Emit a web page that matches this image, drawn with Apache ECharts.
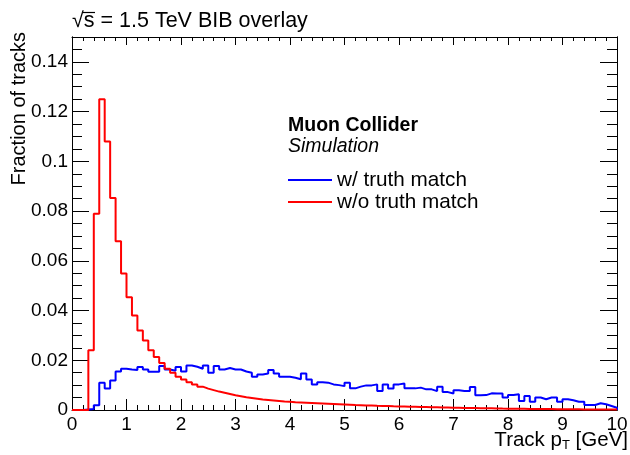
<!DOCTYPE html>
<html>
<head>
<meta charset="utf-8">
<script src="https://cdn.jsdelivr.net/npm/echarts@6/dist/echarts.min.js"></script>
<style>
  html, body { margin: 0; padding: 0; background: #fff; }
  #chart { width: 630px; height: 455px; }
</style>
</head>
<body>
<div id="chart"></div>
<script>
// Histogram binning: 100 bins of 0.1 GeV between 0 and 10 GeV
const binLow = 0;
const binWidth = 0.1;

// Fraction of tracks per bin, tracks with a truth match
const withTruth = [
  0, 0, 0.0002, 0.0004, 0.0019, 0.0110, 0.0086, 0.0119, 0.0155, 0.0166,
  0.0163, 0.0161, 0.0173, 0.0163, 0.0154, 0.0154, 0.0177, 0.0163, 0.0158, 0.0173,
  0.0155, 0.0179, 0.0174, 0.0166, 0.0179, 0.0150, 0.0177, 0.0163, 0.0169, 0.0163,
  0.0163, 0.0155, 0.0150, 0.0134, 0.0143, 0.0147, 0.0161, 0.0147, 0.0134, 0.0134,
  0.0130, 0.0124, 0.0147, 0.0123, 0.0103, 0.0112, 0.0110, 0.0103, 0.0100, 0.0096,
  0.0110, 0.0087, 0.0094, 0.0099, 0.0099, 0.0103, 0.0076, 0.0103, 0.0086, 0.0103,
  0.0107, 0.0087, 0.0087, 0.0090, 0.0083, 0.0083, 0.0076, 0.0094, 0.0072, 0.0066,
  0.0079, 0.0076, 0.0076, 0.0092, 0.0059, 0.0060, 0.0067, 0.0066, 0.0066, 0.0050,
  0.0060, 0.0063, 0.0036, 0.0056, 0.0033, 0.0050, 0.0043, 0.0050, 0.0050, 0.0033,
  0.0043, 0.0039, 0.0033, 0.0033, 0.0020, 0.0020, 0.0027, 0.0023, 0.0016, 0.0009
];

// Fraction of tracks per bin, tracks without a truth match
const withoutTruth = [
  0, 0, 0, 0.0240, 0.0789, 0.1250, 0.1080, 0.0853, 0.0679, 0.0549,
  0.0453, 0.0380, 0.0320, 0.0279, 0.0240, 0.0213, 0.0189, 0.0166, 0.0150, 0.0134,
  0.0123, 0.0112, 0.0103, 0.0094, 0.0086, 0.0080, 0.0074, 0.0069, 0.0064, 0.0059,
  0.0055, 0.0051, 0.0048, 0.0045, 0.0042, 0.0040, 0.0038, 0.0036, 0.0034, 0.0033,
  0.0031, 0.0030, 0.0029, 0.0028, 0.0027, 0.0026, 0.0025, 0.0024, 0.0023, 0.0022,
  0.0021, 0.0020, 0.00195, 0.00185, 0.0018, 0.0017, 0.00165, 0.0016, 0.0015, 0.00145,
  0.0014, 0.00135, 0.0013, 0.00125, 0.0012, 0.00115, 0.0011, 0.00105, 0.0010, 0.00095,
  0.0009, 0.00085, 0.0008, 0.00078, 0.00074, 0.0007, 0.00066, 0.00062, 0.00058, 0.00055,
  0.00052, 0.0005, 0.00047, 0.00044, 0.00042, 0.0004, 0.00038, 0.00036, 0.00034, 0.00032,
  0.0003, 0.00028, 0.00027, 0.00025, 0.00024, 0.00022, 0.00021, 0.0002, 0.00018, 0.00017
];

const seriesNames = ['w/ truth match', 'w/o truth match'];
const seriesColors = ['#0000ff', '#ff0000'];
const titleText = '\u221As = 1.5 TeV BIB overlay';
const yTitle = 'Fraction of tracks';
const experimentLabel = 'Muon Collider';
const statusLabel = 'Simulation';

// Turn bin contents into step-line vertices (bin low edges + closing edge)
function histPoints(values) {
  const pts = [[binLow, 0]];
  values.forEach((v, i) => pts.push([+(binLow + i * binWidth).toFixed(2), v]));
  const hi = +(binLow + values.length * binWidth).toFixed(2);
  pts.push([hi, values[values.length - 1]]);
  pts.push([hi, 0]);
  return pts;
}

const FONT = '"Liberation Sans", Arial, Helvetica, sans-serif';
const chart = echarts.init(document.getElementById('chart'), null, { renderer: 'canvas' });

const baseX = {
  type: 'value', min: 0, max: 10, interval: 1,
  axisLine: { show: true, onZero: false, lineStyle: { color: '#000', width: 1 } },
  splitLine: { show: false },
  minorSplitLine: { show: false }
};
const baseY = {
  type: 'value', min: 0, max: 0.15,
  axisLine: { show: true, onZero: false, lineStyle: { color: '#000', width: 1 } },
  splitLine: { show: false }
};

chart.setOption({
  animation: false,
  backgroundColor: '#fff',
  grid: { left: 72, right: 13, top: 37, bottom: 45, containLabel: false, outerBoundsMode: 'none' },
  xAxis: [
    Object.assign({}, baseX, {
      position: 'bottom',
      axisTick: { show: true, inside: true, length: 11, lineStyle: { color: '#000' } },
      minorTick: { show: true, splitNumber: 5, length: 5, lineStyle: { color: '#000' } },
      axisLabel: { show: true, color: '#000', fontSize: 19, fontFamily: FONT, margin: 5 }
    }),
    Object.assign({}, baseX, {
      position: 'top',
      axisTick: { show: true, inside: true, length: 8, lineStyle: { color: '#000' } },
      minorTick: { show: true, splitNumber: 5, length: 4, lineStyle: { color: '#000' } },
      axisLabel: { show: false }
    })
  ],
  yAxis: [
    Object.assign({}, baseY, {
      position: 'left', interval: 0.02,
      axisTick: { show: true, inside: true, length: 17, lineStyle: { color: '#000' } },
      axisLabel: {
        show: true, color: '#000', fontSize: 19, fontFamily: FONT, margin: 4,
        showMaxLabel: false,
        formatter: v => (v > 0.145 ? '' : String(+v.toFixed(2)))
      }
    }),
    Object.assign({}, baseY, {
      position: 'left', interval: 0.005,
      axisTick: { show: true, inside: true, length: 10, lineStyle: { color: '#000' } },
      axisLabel: { show: false }
    }),
    Object.assign({}, baseY, {
      position: 'right', interval: 0.02,
      axisTick: { show: true, inside: true, length: 17, lineStyle: { color: '#000' } },
      axisLabel: { show: false }
    }),
    Object.assign({}, baseY, {
      position: 'right', interval: 0.005,
      axisTick: { show: true, inside: true, length: 10, lineStyle: { color: '#000' } },
      axisLabel: { show: false }
    })
  ],
  series: [withTruth, withoutTruth].map((vals, k) => ({
    name: seriesNames[k],
    type: 'line',
    step: 'end',
    xAxisIndex: 0,
    yAxisIndex: 0,
    showSymbol: false,
    clip: false,
    data: histPoints(vals),
    lineStyle: { color: seriesColors[k], width: 2 },
    itemStyle: { color: seriesColors[k] },
    z: 3 + k
  })),
  graphic: [
    {
      type: 'text', left: 72, top: 10,
      style: { text: titleText, font: '21.5px ' + FONT, fill: '#000' }
    },
    {
      // bar of the square-root sign extended over the "s"
      type: 'line', shape: { x1: 82, y1: 12.5, x2: 95, y2: 12.5 },
      style: { stroke: '#000', lineWidth: 1.2 }
    },
    {
      type: 'text', x: 19, y: 32, rotation: Math.PI / 2,
      style: { text: yTitle, font: '20px ' + FONT, fill: '#000', align: 'right', verticalAlign: 'middle' }
    },
    {
      type: 'text', x: 628, y: 440,
      style: {
        text: 'Track p{sub|T} [GeV]',
        font: '20.5px ' + FONT, fill: '#000', align: 'right', verticalAlign: 'middle',
        rich: { sub: { fontSize: 13, fontFamily: FONT, verticalAlign: 'bottom', padding: [10, 0, 0, 0] } }
      }
    },
    {
      type: 'text', x: 288, y: 126,
      style: { text: experimentLabel, font: 'bold 19.5px ' + FONT, fill: '#000', verticalAlign: 'middle' }
    },
    {
      type: 'text', x: 288, y: 147,
      style: { text: statusLabel, font: 'italic 19.5px ' + FONT, fill: '#000', verticalAlign: 'middle' }
    },
    {
      type: 'line', shape: { x1: 288, y1: 180, x2: 332, y2: 180 },
      style: { stroke: seriesColors[0], lineWidth: 2 }
    },
    {
      type: 'text', x: 337, y: 180,
      style: { text: seriesNames[0], font: '20.7px ' + FONT, fill: '#000', verticalAlign: 'middle' }
    },
    {
      type: 'line', shape: { x1: 288, y1: 202, x2: 332, y2: 202 },
      style: { stroke: seriesColors[1], lineWidth: 2 }
    },
    {
      type: 'text', x: 337, y: 202,
      style: { text: seriesNames[1], font: '20.7px ' + FONT, fill: '#000', verticalAlign: 'middle' }
    }
  ]
});
</script>
</body>
</html>
